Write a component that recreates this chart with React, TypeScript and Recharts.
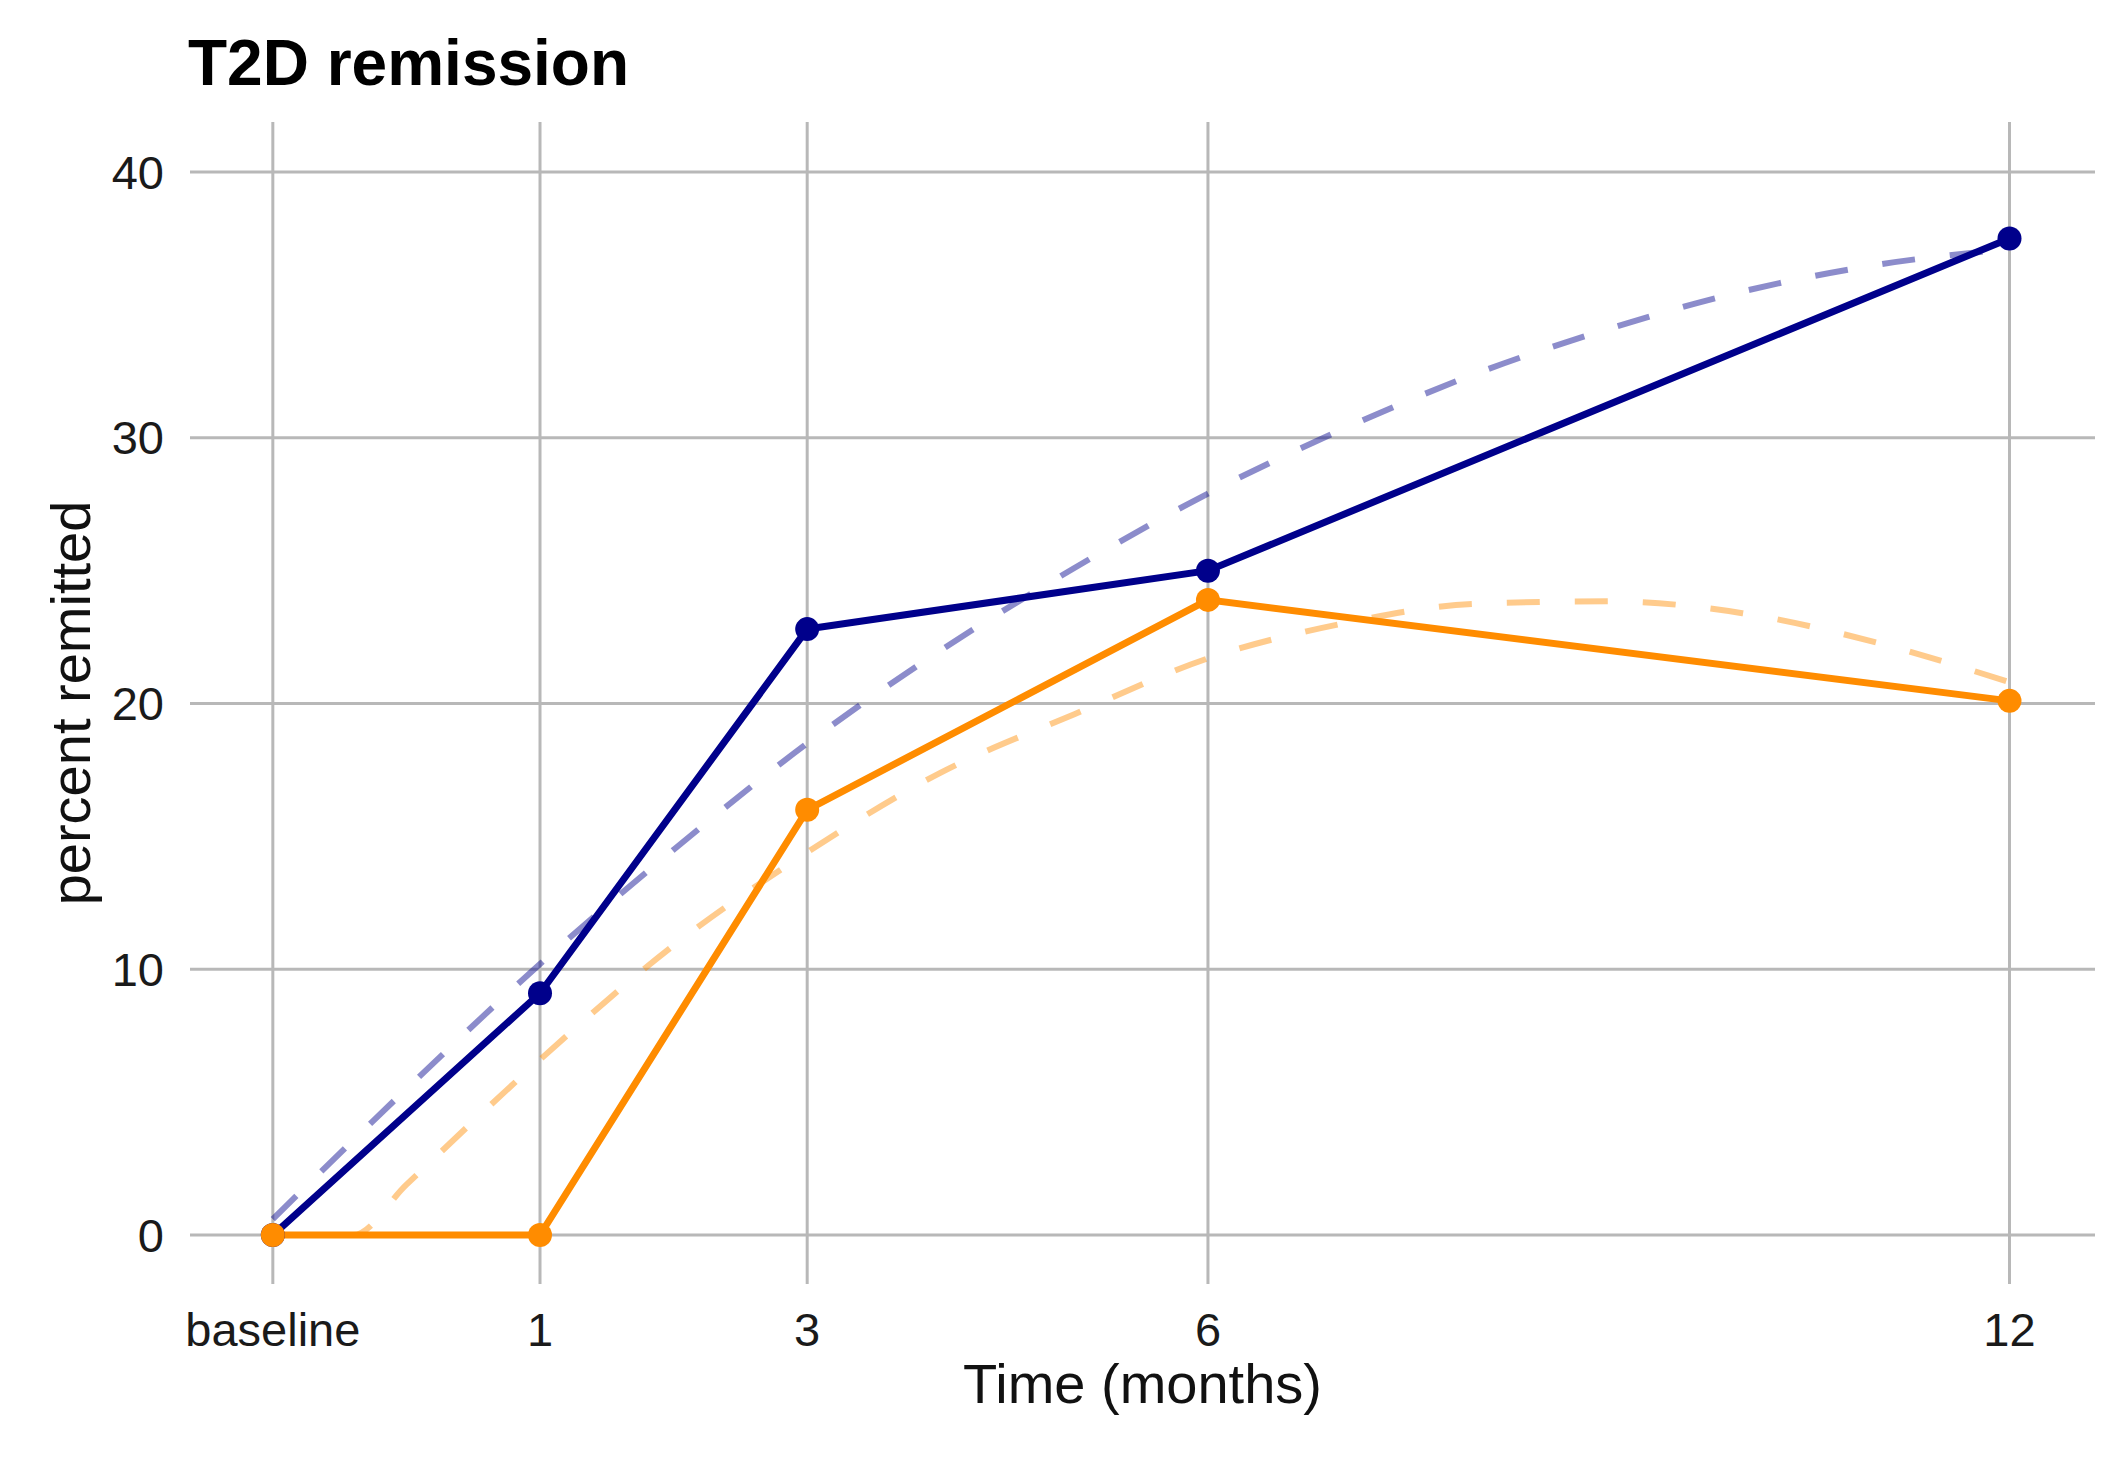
import React from 'react';
import { LineChart, Line, XAxis, YAxis, CartesianGrid } from 'recharts';

// observed remission (%) at each visit; baseline sits at -1 on the month axis
const visitMonths = [-1, 1, 3, 6, 12];
const groupA = [0, 9.1, 22.8, 25.0, 37.5];
const groupB = [0, 0, 16.0, 23.9, 20.1];

// fitted trend curves
const fitMonthsA = [-1, 0, 1, 2, 3, 4, 5, 6, 7, 8, 9, 10, 11, 12];
const fitA = [0.6, 5.5, 10.2, 14.5, 18.5, 22.0, 25.1, 27.9, 30.3, 32.4, 34.1, 35.5, 36.5, 37.1];
const fitMonthsB = [-1, -0.4, 0, 1, 2, 3, 4, 5, 6, 7, 8, 9, 10, 11, 12];
const fitB = [0, 0, 1.9, 6.6, 10.9, 14.4, 17.4, 19.6, 21.7, 23.0, 23.75, 23.85, 23.4, 22.3, 20.8];

const xTicks = [-1, 1, 3, 6, 12];
const yTicks = [0, 10, 20, 30, 40];

const BLUE = '#00008B';
const ORANGE = '#FF8C00';

const obsA = visitMonths.map((m, i) => ({ month: m, value: groupA[i] }));
const obsB = visitMonths.map((m, i) => ({ month: m, value: groupB[i] }));
const trendA = fitMonthsA.map((m, i) => ({ month: m, value: fitA[i] }));
const trendB = fitMonthsB.map((m, i) => ({ month: m, value: fitB[i] }));

const XTitle = (props: any) => {
  const vb = props.viewBox || {};
  return (
    <text x={vb.x + vb.width / 2} y={vb.y + 119} textAnchor="middle" fontSize={56} fill="#111">
      Time (months)
    </text>
  );
};

const YTitle = (props: any) => {
  const vb = props.viewBox || {};
  const x = vb.x + 90;
  const y = vb.y + vb.height / 2;
  return (
    <text x={x} y={y} textAnchor="middle" fontSize={56} fill="#111" transform={`rotate(-90 ${x} ${y})`}>
      percent remitted
    </text>
  );
};

export default function App() {
  return (
    <div
      style={{
        position: 'relative',
        width: 2128,
        height: 1457,
        background: '#fff',
        fontFamily: '"Liberation Sans", Arial, sans-serif',
      }}
    >
      <style>{'body{margin:0}'}</style>
      <div
        style={{
          position: 'absolute',
          left: 188,
          top: 31,
          fontSize: 64,
          lineHeight: '64px',
          fontWeight: 'bold',
          color: '#000',
        }}
      >
        T2D remission
      </div>
      <LineChart width={2128} height={1457} margin={{ top: 122, right: 33, bottom: 0, left: 0 }}>
        {/* grid lines only at the ticks, no panel border */}
        <CartesianGrid stroke="#b8b8b8" strokeWidth={3} syncWithTicks />
        <XAxis
          dataKey="month"
          type="number"
          domain={[-1.62, 12.64]}
          ticks={xTicks}
          allowDataOverflow
          tickFormatter={(v: number) => (v === -1 ? 'baseline' : String(v))}
          axisLine={false}
          tickLine={false}
          tickSize={0}
          tickMargin={29}
          height={173}
          tick={{ fontSize: 47, fill: '#1a1a1a' }}
          label={<XTitle />}
        />
        <YAxis
          type="number"
          domain={[-1.84, 41.88]}
          ticks={yTicks}
          allowDataOverflow
          axisLine={false}
          tickLine={false}
          tickSize={0}
          tickMargin={26}
          width={190}
          tick={{ fontSize: 47, fill: '#1a1a1a' }}
          label={<YTitle />}
        />
        <Line
          data={trendA}
          dataKey="value"
          type="monotone"
          stroke={BLUE}
          strokeOpacity={0.45}
          strokeWidth={6}
          strokeDasharray="33 35"
          dot={false}
          activeDot={false}
          isAnimationActive={false}
        />
        <Line
          data={trendB}
          dataKey="value"
          type="monotone"
          stroke={ORANGE}
          strokeOpacity={0.45}
          strokeWidth={6}
          strokeDasharray="33 35"
          dot={false}
          activeDot={false}
          isAnimationActive={false}
        />
        <Line
          data={obsA}
          dataKey="value"
          type="linear"
          stroke={BLUE}
          strokeWidth={7}
          dot={{ r: 12, fill: BLUE, stroke: 'none' }}
          activeDot={false}
          isAnimationActive={false}
        />
        <Line
          data={obsB}
          dataKey="value"
          type="linear"
          stroke={ORANGE}
          strokeWidth={7}
          dot={{ r: 12, fill: ORANGE, stroke: 'none' }}
          activeDot={false}
          isAnimationActive={false}
        />
      </LineChart>
    </div>
  );
}
